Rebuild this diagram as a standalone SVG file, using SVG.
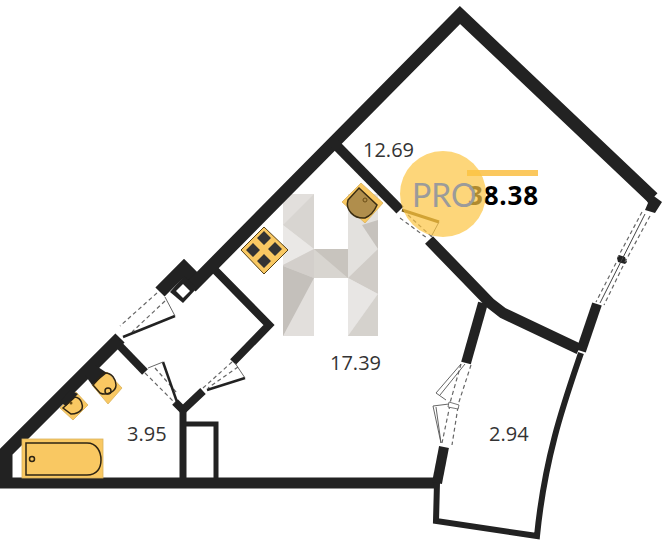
<svg xmlns="http://www.w3.org/2000/svg" width="663" height="546" viewBox="0 0 663 546">
<style>
.w{fill:none;stroke:#222;stroke-linejoin:miter;stroke-miterlimit:4}
.d{fill:none;stroke:#666;stroke-width:1.2;stroke-dasharray:4 3}
.t{fill:none;stroke:#555;stroke-width:.9}
.l{fill:none;stroke:#222;stroke-width:2.5}
.y{fill:#f9c862;stroke:#d9b25c;stroke-width:.8}
.o{fill:none;stroke:#2e2413;stroke-width:1.5}
.n{font-family:"Open Sans","Liberation Sans",sans-serif;font-size:20px;fill:#333}
</style>
<rect width="663" height="546" fill="#fff"/>
<g id="watermark-h">
<path d="M283 194h31v142h-31z" fill="#e2dfdc"/>
<path d="M348 194h30v142h-30z" fill="#e3e1de"/>
<path d="M314 249h34v29h-34z" fill="#d8d5d0"/>
<path d="M283 225L314 194V249Z" fill="#d8d5d1"/>
<path d="M283 225L314 249L283 265Z" fill="#eae8e6"/>
<path d="M283 265L314 249V278L283 266Z" fill="#d3cfcb"/>
<path d="M283 266L314 278L283 336Z" fill="#c4c0bb"/>
<path d="M314 249H348V278Z" fill="#c8c4be"/>
<path d="M378 220V249L362 225Z" fill="#c6c2bd"/>
<path d="M378 249V294L348 278Z" fill="#d0ccc7"/>
<path d="M348 278L378 294L348 336Z" fill="#e8e6e4"/>
<path d="M378 294V336H348Z" fill="#d5d2cd"/>
</g>
<g id="walls">
<path class="w" stroke-width="13" d="M6 486V452L120 338"/>
<path class="w" stroke-width="13" d="M160 292L184 268L197 281"/>
<path class="w" stroke-width="13" d="M191 287L460 15L653 198"/>
<path fill="#222" d="M640 186L662 202L655 213L645 210L648 203Z"/>
<path fill="#222" d="M170 292L183 303L197 288L184 276Z"/>
<path fill="#fff" d="M183 284L190 291L183 298L176 291Z"/>
<path class="w" stroke-width="11" d="M0 483H438"/>
<path class="w" stroke-width="8" d="M117 343L145 372"/>
<path class="w" stroke-width="8" d="M175 402L183 410L203 391"/>
<path class="w" stroke-width="8" d="M233 362L269 325L215 270"/>
<path class="w" stroke-width="7" d="M183 408V480"/>
<path class="w" stroke-width="5" d="M185 424H216V480"/>
<path class="w" stroke-width="10" d="M335 144L400 210"/>
<path class="w" stroke-width="11" d="M429 240L490 303L503 313L579 349"/>
<path class="w" stroke-width="10" d="M597 304L581 351"/>
<path class="w" stroke-width="10" d="M483 303L466 363"/>
<path class="w" stroke-width="10" d="M444 447L437 483"/>
<path class="w" stroke-width="6" d="M581 353C565 400 545 455 537 536L436 521L437 483"/>
<path fill="#222" d="M619 255l6 2 1 3 1 2-2 2-7-2-1-4z"/>
</g>
<g id="openings">
<path class="d" d="M157 293L120 326M165 301L132 332"/>
<path class="l" d="M123 337L175 316"/>
<path class="t" d="M165 297L175 316"/>
<path class="d" d="M145 373L175 403M155 368L177 393"/>
<path class="l" d="M163 362L177 402"/>
<path class="t" d="M148 368L163 362"/>
<path class="d" d="M232 362L203 388M238 367L208 388"/>
<path class="l" d="M207 390L245 378"/>
<path class="t" d="M235 363L245 378"/>
<path class="d" d="M400 218L427 238M408 215L432 237"/>
<path stroke="#6e5516" stroke-width="3" fill="none" d="M402 210L439 222"/>
<path class="t" d="M439 222L431 237"/>
<path class="d" d="M642 212L618 257M650 216L625 262M616 263L596 302M623 266L604 305"/>
<path fill="none" stroke="#444" stroke-width="1" d="M645 214L600 303"/>
<path class="d" d="M461 364L450 403M471 365L458 405M450 405L442 443M458 407L452 445"/>
<path class="t" d="M461 364L436 393L446 400M465 364L440 395"/>
<path class="t" d="M449 404L433 406L441 443L436 407"/>
<path fill="#fff" stroke="#555" stroke-width=".8" d="M449 402l10 3-1 4-10-2z"/>
</g>
<g id="fixtures">
<g id="bath"><rect class="y" x="22" y="439" width="81" height="39"/>
<path class="o" d="M26 443H87C97 443 101 452 101 460S97 475 87 475H26Z"/><circle class="o" stroke-width="1" cx="32" cy="459" r="2.5"/></g>
<g id="toilet"><path class="y" d="M92 385L107 372L122 388L108 404Z"/>
<path fill="#222" d="M85 375L95 365L107 373L92 385Z"/>
<path class="o" d="M93 385L104 373C112 372 116 380 116 385C116 392 106 396 100 393Z"/><circle class="o" stroke-width="1" cx="108" cy="391" r="3"/></g>
<g id="basin"><path class="y" d="M60 408L76 392L88 405L73 420Z"/>
<path fill="#222" d="M60 402L70 390L78 394L66 406Z"/>
<path class="o" d="M63 408L75 397C82 398 83 406 82 409C79 413 76 414 71 414Z"/><circle fill="#6a4d16" cx="71" cy="403" r="1.5"/></g>
<g id="kitchen-sink"><path class="y" d="M342 202L361 183L383 203L365 223Z"/>
<path fill="#b08e4c" stroke="#3a2d12" stroke-width="1.5" d="M348 200L359 188L377 205C374 212 370 216 365 218C354 219 345 210 348 200Z"/><circle fill="none" stroke="#6a4d16" cx="365" cy="200" r="2"/></g>
<g id="stove"><path fill="#f9c862" stroke="#554015" stroke-width="1" d="M241 250L264 227L288 250L264 274Z"/>
<path fill="#333" d="M264 231l7 7-7 7-7-7zM275 242l7 7-7 7-7-7zM253 243l7 7-7 7-7-7zM264 254l7 7-7 7-7-7z"/></g>
</g>
<g id="labels">
<text class="n" x="363" y="157">12.69</text>
<text class="n" x="330" y="370">17.39</text>
<text class="n" x="127" y="441">3.95</text>
<text class="n" x="489" y="441">2.94</text>
</g>
<g id="badge">
<rect x="467" y="170" width="71" height="6" fill="#fbc85e"/>
<text x="468" y="205" font-family="'Open Sans','Liberation Sans',sans-serif" font-size="26" letter-spacing=".8" font-weight="700" fill="#000">38.38</text>
<circle cx="443" cy="194" r="43" fill="#fcc441" fill-opacity=".7"/>
<text x="412" y="207" font-family="Lato,'Liberation Sans',sans-serif" font-size="32" fill="#9b9b9b">PRO</text>
</g>
</svg>
